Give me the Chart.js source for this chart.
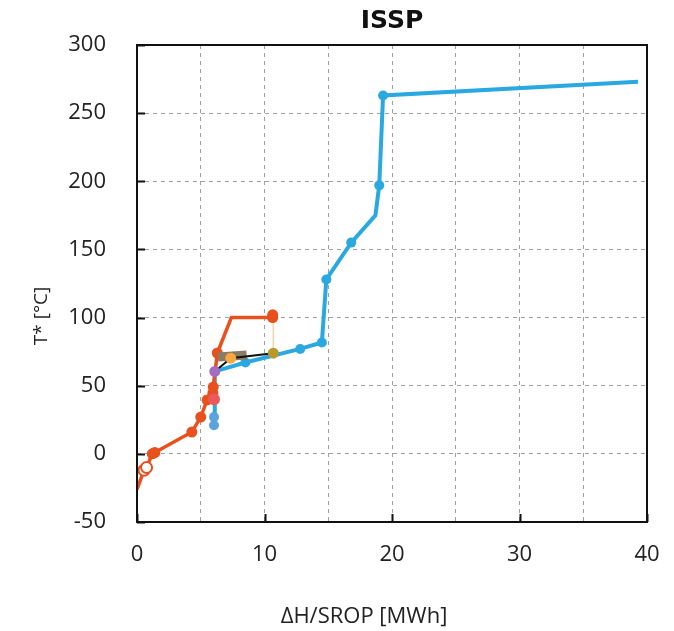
<!DOCTYPE html>
<html>
<head>
  <title>ISSP</title>
  <script src="https://cdn.jsdelivr.net/npm/chart.js"></script>
  <style>
    body { margin: 0; background: #fff; }
    #wrap { width: 674px; height: 631px; }
  </style>
</head>
<body>
  <div id="wrap"><canvas id="issp-chart"></canvas></div>
  <script>
    // values: x = dH/SROP [MWh], y = T* [C]
    const blueX = [5.95, 6.05, 6.1, 8.5, 12.8, 14.5, 14.85, 16.8, 18.7, 19.0, 19.3, 39.3];
    const blueY = [20, 27, 60.5, 67, 77, 81.7, 128, 155, 175, 197, 263, 273];
    const blueDots = [0, 0, 0, 1, 1, 1, 1, 1, 0, 1, 1, 0];

    const redX = [0, 0.55, 0.75, 1.2, 1.4, 4.3, 5.0, 5.5, 5.95, 5.98, 6.3, 7.4, 10.64, 10.64];
    const redY = [-26, -12, -10, 0, 1, 16, 27, 39.6, 44.5, 49, 74, 100, 100, 102];
    const redDots = [0, 1, 1, 1, 1, 1, 1, 1, 1, 1, 1, 0, 1, 1];
    const redHollow = [0, 1, 1, 0, 0, 0, 0, 0, 0, 0, 0, 0, 0, 0];

    const lightBlueX = [6.04, 6.04];
    const lightBlueY = [21, 27];

    const pinkX = [6.04];
    const pinkY = [40];

    const blackX = [6.1, 7.35, 10.69];
    const blackY = [60.5, 70.2, 73.9];

    const bandX = [6.35, 8.6];
    const bandY = [71, 72.5];

    const yellowX = [10.69, 10.69];
    const yellowY = [100, 73.9];

    const xTicks = [0, 10, 20, 30, 40];
    const yTicks = [-50, 0, 50, 100, 150, 200, 250, 300];

    const pts = (xs, ys) => xs.map((x, i) => ({ x: x, y: ys[i] }));

    const BLUE = '#2aa9e0';
    const RED = '#e8501e';
    const FONT = 'Open Sans';

    // frame, inward tick marks and the two axis titles (placed like the original)
    const framePlugin = {
      id: 'frame',
      afterDraw(chart) {
        const { ctx, chartArea: a, scales } = chart;
        ctx.save();
        ctx.strokeStyle = '#111';
        ctx.lineWidth = 2;
        ctx.strokeRect(a.left, a.top, a.right - a.left, a.bottom - a.top);
        ctx.beginPath();
        yTicks.forEach(v => {
          const py = Math.round(scales.y.getPixelForValue(v)) + 0.5;
          ctx.moveTo(a.left, py);
          ctx.lineTo(a.left + 8, py);
        });
        xTicks.forEach(v => {
          const px = Math.round(scales.x.getPixelForValue(v)) + 0.5;
          ctx.moveTo(px, a.bottom);
          ctx.lineTo(px, a.bottom - 8);
        });
        ctx.stroke();

        ctx.fillStyle = '#222';
        ctx.textAlign = 'center';
        ctx.textBaseline = 'middle';
        ctx.font = '22px "' + FONT + '"';
        ctx.fillText('ΔH/SROP [MWh]', a.left + 227, a.bottom + 95);

        ctx.translate(42, a.top + 271);
        ctx.rotate(-Math.PI / 2);
        ctx.font = '19px "' + FONT + '"';
        ctx.fillText('T* [°C]', 0, 0);
        ctx.restore();
      }
    };

    const ctx = document.getElementById('issp-chart').getContext('2d');
    new Chart(ctx, {
      type: 'scatter',
      data: {
        datasets: [
          {
            label: 'pink',
            data: pts(pinkX, pinkY),
            pointRadius: 6,
            pointBackgroundColor: '#ea5a5a',
            pointBorderWidth: 0,
            showLine: false
          },
          {
            label: 'orange',
            data: [{ x: blackX[1], y: blackY[1] }],
            pointRadius: 5.5,
            pointBackgroundColor: '#f7a640',
            pointBorderWidth: 0,
            showLine: false
          },
          {
            label: 'olive',
            data: [{ x: blackX[2], y: blackY[2] }],
            pointRadius: 5.5,
            pointBackgroundColor: '#b89a2c',
            pointBorderWidth: 0,
            showLine: false
          },
          {
            label: 'purple',
            data: [{ x: blackX[0], y: blackY[0] }],
            pointRadius: 5.5,
            pointBackgroundColor: '#a66cc0',
            pointBorderWidth: 0,
            showLine: false
          },
          {
            label: 'lightblue',
            data: pts(lightBlueX, lightBlueY),
            pointRadius: 5,
            pointBackgroundColor: '#5aa3dc',
            pointBorderWidth: 0,
            showLine: false
          },
          {
            label: 'black',
            data: pts(blackX, blackY),
            showLine: true,
            borderColor: '#111',
            borderWidth: 2,
            pointRadius: 0
          },
          {
            label: 'band',
            data: pts(bandX, bandY),
            showLine: true,
            borderColor: '#8a7b63',
            borderWidth: 9,
            borderCapStyle: 'butt',
            pointRadius: 0
          },
          {
            label: 'red',
            data: pts(redX, redY),
            showLine: true,
            borderColor: RED,
            borderWidth: 3.5,
            pointRadius: redDots.map(d => d ? 5.5 : 0),
            pointBackgroundColor: redHollow.map(h => h ? '#fff' : RED),
            pointBorderColor: RED,
            pointBorderWidth: redHollow.map(h => h ? 2 : 0)
          },
          {
            label: 'blue',
            data: pts(blueX, blueY),
            showLine: true,
            borderColor: BLUE,
            borderWidth: 4,
            pointRadius: blueDots.map(d => d ? 5 : 0),
            pointBackgroundColor: BLUE,
            pointBorderWidth: 0
          },
          {
            label: 'yellow',
            data: pts(yellowX, yellowY),
            showLine: true,
            borderColor: '#f3d8a4',
            borderWidth: 1.5,
            pointRadius: 0
          }
        ]
      },
      options: {
        responsive: true,
        maintainAspectRatio: false,
        animation: false,
        layout: { padding: { left: 0, right: 27, top: 0, bottom: 0 } },
        plugins: {
          legend: { display: false },
          tooltip: { enabled: false },
          title: {
            display: true,
            text: 'ISSP',
            fullSize: false,
            color: '#111',
            font: { family: 'DejaVu Sans', size: 25, weight: 'bold' },
            padding: { top: 6, bottom: 9 }
          }
        },
        scales: {
          x: {
            type: 'linear',
            min: 0,
            max: 40,
            afterFit: s => {
              s.height = 109;
              s.paddingLeft = 0;
              s.paddingRight = 0;
            },
            ticks: {
              stepSize: 5,
              maxRotation: 0,
              padding: 20,
              color: '#222',
              font: { family: FONT, size: 22 },
              callback: v => (xTicks.includes(v) ? v : '')
            },
            grid: {
              drawTicks: false,
              color: '#a0a0a0',
              lineWidth: 1,
              borderDash: [4, 4]
            },
            border: { display: false, dash: [4, 4] }
          },
          y: {
            type: 'linear',
            min: -50,
            max: 300,
            afterFit: s => { s.width = 137; },
            ticks: {
              stepSize: 50,
              padding: 31,
              color: '#222',
              font: { family: FONT, size: 22 }
            },
            grid: {
              drawTicks: false,
              color: '#a0a0a0',
              lineWidth: 1,
              borderDash: [4, 4]
            },
            border: { display: false, dash: [4, 4] }
          }
        }
      },
      plugins: [framePlugin]
    });
  </script>
</body>
</html>
